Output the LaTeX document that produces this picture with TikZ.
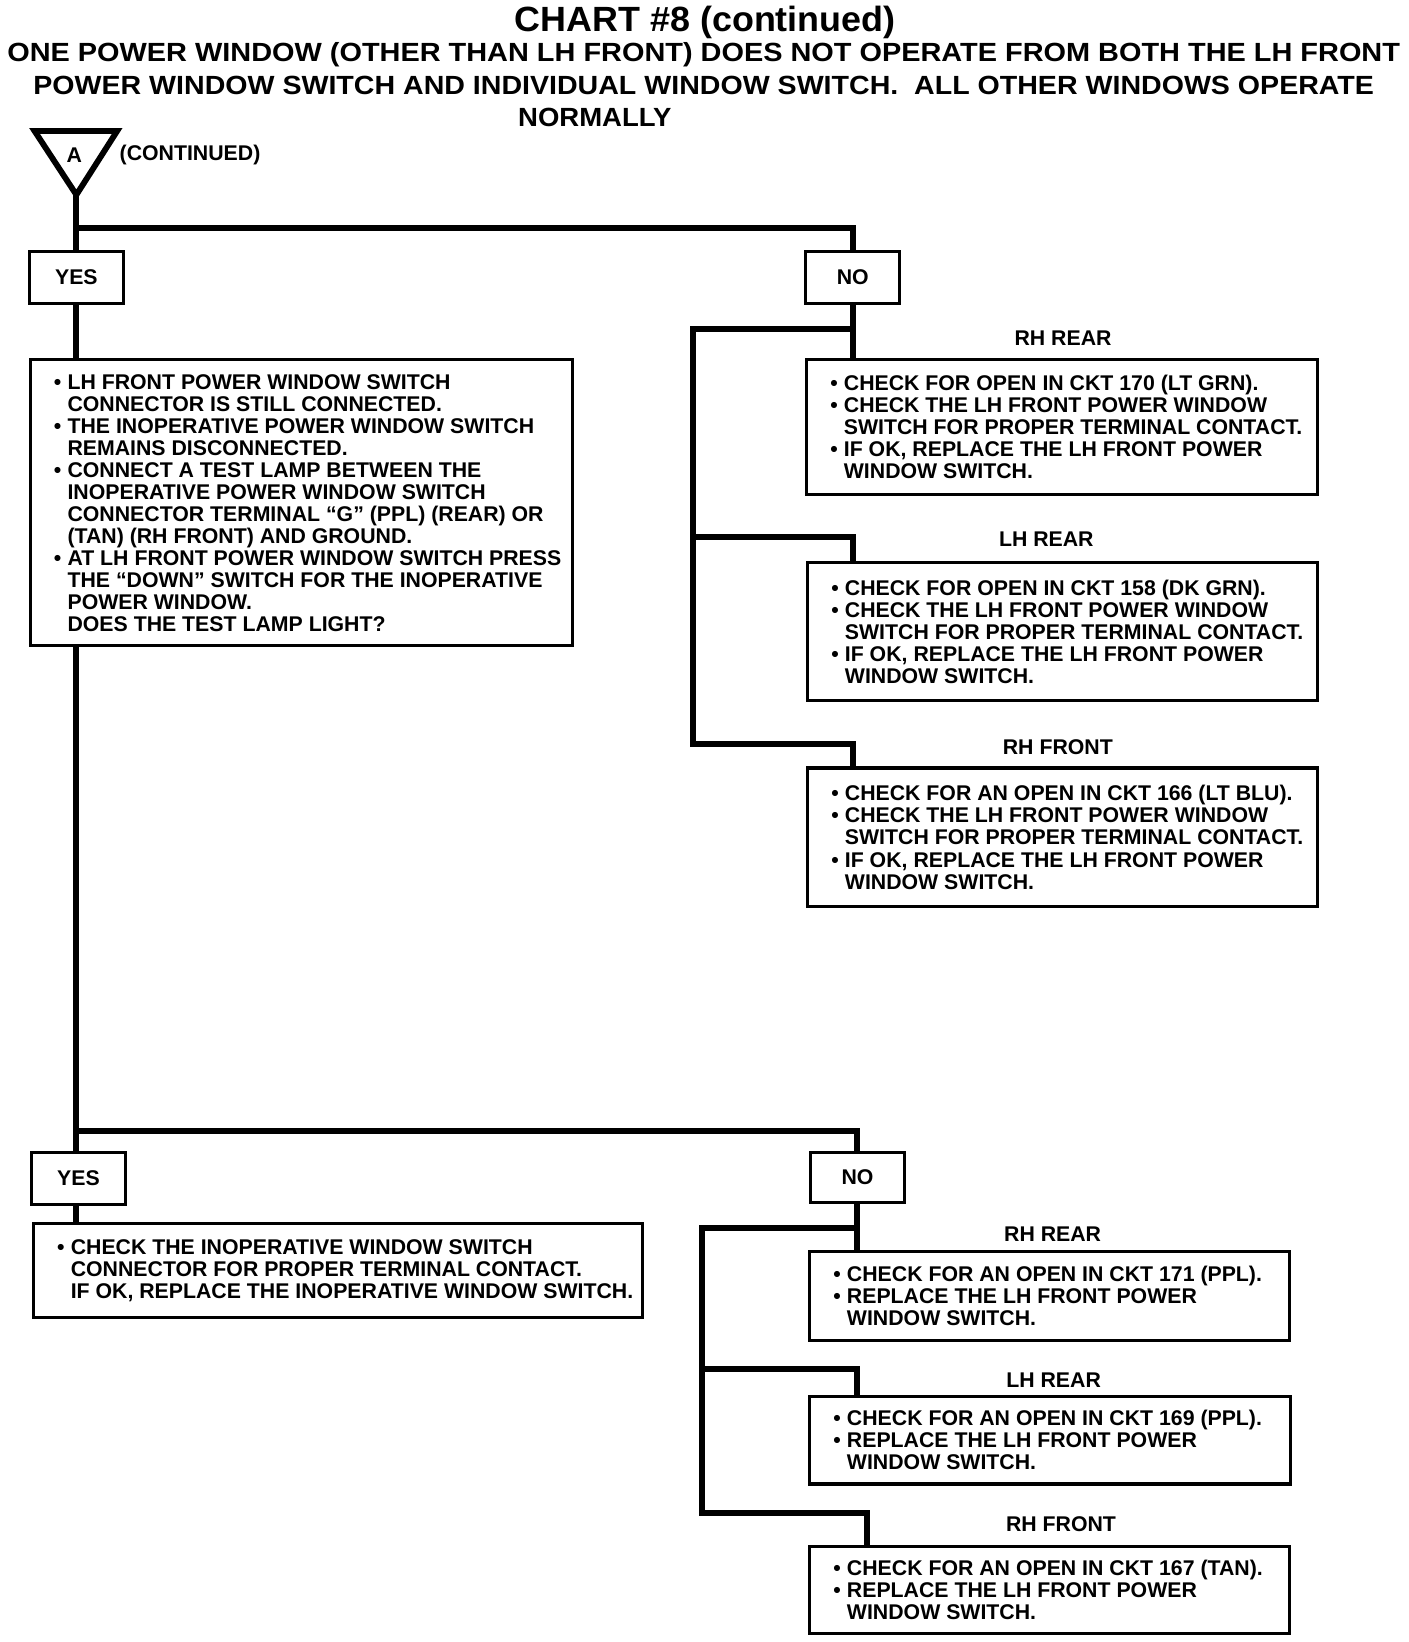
\documentclass[tikz,border=0pt]{standalone}
\usepackage{fontspec}
\usepackage{graphicx}
\setmainfont{Liberation Sans}
\newcommand\bodyfont{\fontsize{10.2pt}{10.55pt}\selectfont\bfseries}
\newcommand\titlefont{\fontsize{16.8pt}{18pt}\selectfont\bfseries}
\newcommand\subfont{\fontsize{12.6pt}{14pt}\selectfont\bfseries}
\newcommand\myb{\makebox[6.5pt][l]{•}}
\newcommand\myc{\hspace*{6.5pt}}
\begin{document}
\begin{tikzpicture}[x=0.5015pt,y=-0.502pt,
  box/.style={draw, line width=1.5pt, rectangle, inner sep=0pt},
  smallbox/.style={box, minimum width=45pt, minimum height=25pt, font=\bodyfont},
  conn/.style={line width=2.9pt},
  txt/.style={font=\bodyfont, align=left, inner sep=0pt, anchor=west},
  lab/.style={font=\bodyfont, inner sep=0pt}]
\fill[white] (0,0) rectangle (1345.96,1567.73);
\useasboundingbox (0,0) rectangle (1345.96,1567.73);

% titles
\node[anchor=base, inner sep=0pt] (t1) at (674,30.5) {\resizebox{182.5pt}{\height}{\titlefont CHART \#8 (continued)}};
\node[anchor=base, inner sep=0pt] (t2) at (672.5,59) {\resizebox{667.5pt}{\height}{\subfont ONE POWER WINDOW (OTHER THAN LH FRONT) DOES NOT OPERATE FROM BOTH THE LH FRONT}};
\node[anchor=base, inner sep=0pt] (t3) at (672.5,90) {\resizebox{642.5pt}{\height}{\subfont POWER WINDOW SWITCH AND INDIVIDUAL WINDOW SWITCH.\ \ ALL OTHER WINDOWS OPERATE}};
\node[anchor=base, inner sep=0pt] (t4) at (568.5,121) {\resizebox{73.5pt}{\height}{\subfont NORMALLY}};

% triangle A
\draw[line width=2.8pt, line join=miter] (33,125) -- (112,125) -- (73,186) -- cycle;
\coordinate (apex) at (73,186);
\node[lab] (A) at (71,148) {A};
\node[lab, anchor=west] (contd) at (114,148) {(CONTINUED)};

% first level
\node[smallbox] (yes1) at (73,265) {YES};
\node[smallbox] (no1) at (815,265) {NO};

\node[box, minimum width=260pt, minimum height=137pt] (big) at (288,480) {};
\node[txt] (bigt) at ([xshift=12pt]big.west) {%
\myb LH FRONT POWER WINDOW SWITCH\\
\myc CONNECTOR IS STILL CONNECTED.\\
\myb THE INOPERATIVE POWER WINDOW SWITCH\\
\myc REMAINS DISCONNECTED.\\
\myb CONNECT A TEST LAMP BETWEEN THE\\
\myc INOPERATIVE POWER WINDOW SWITCH\\
\myc CONNECTOR TERMINAL “G” (PPL) (REAR) OR\\
\myc (TAN) (RH FRONT) AND GROUND.\\
\myb AT LH FRONT POWER WINDOW SWITCH PRESS\\
\myc THE “DOWN” SWITCH FOR THE INOPERATIVE\\
\myc POWER WINDOW.\\
\myc DOES THE TEST LAMP LIGHT?};

\node[lab] (l1) at (1016,323) {RH REAR};
\node[box, minimum width=245pt, minimum height=64.5pt] (r1) at (1015,407.5) {};
\node[txt] (r1t) at ([xshift=12pt]r1.west) {%
\myb CHECK FOR OPEN IN CKT 170 (LT GRN).\\
\myb CHECK THE LH FRONT POWER WINDOW\\
\myc SWITCH FOR PROPER TERMINAL CONTACT.\\
\myb IF OK, REPLACE THE LH FRONT POWER\\
\myc WINDOW SWITCH.};

\node[lab] (l2) at (1000,515) {LH REAR};
\node[box, minimum width=244.5pt, minimum height=66pt] (r2) at (1015.5,603) {};
\node[txt] (r2t) at ([xshift=12pt]r2.west) {%
\myb CHECK FOR OPEN IN CKT 158 (DK GRN).\\
\myb CHECK THE LH FRONT POWER WINDOW\\
\myc SWITCH FOR PROPER TERMINAL CONTACT.\\
\myb IF OK, REPLACE THE LH FRONT POWER\\
\myc WINDOW SWITCH.};

\node[lab] (l3) at (1011,713) {RH FRONT};
\node[box, minimum width=244.5pt, minimum height=66.5pt] (r3) at (1015.5,799.5) {};
\node[txt] (r3t) at ([xshift=12pt]r3.west) {%
\myb CHECK FOR AN OPEN IN CKT 166 (LT BLU).\\
\myb CHECK THE LH FRONT POWER WINDOW\\
\myc SWITCH FOR PROPER TERMINAL CONTACT.\\
\myb IF OK, REPLACE THE LH FRONT POWER\\
\myc WINDOW SWITCH.};

% second level
\node[smallbox] (yes2) at (75,1125) {YES};
\node[smallbox, minimum height=24pt] (no2) at (819.5,1124) {NO};

\node[box, minimum width=292pt, minimum height=45pt] (ybox) at (323,1213) {};
\node[txt] (yboxt) at ([xshift=12pt]ybox.west) {%
\myb CHECK THE INOPERATIVE WINDOW SWITCH\\
\myc CONNECTOR FOR PROPER TERMINAL CONTACT.\\
\myc IF OK, REPLACE THE INOPERATIVE WINDOW SWITCH.};

\node[lab] (m1) at (1006,1178) {RH REAR};
\node[box, minimum width=230pt, minimum height=42.5pt] (s1) at (1003,1237.5) {};
\node[txt] (s1t) at ([xshift=12pt]s1.west) {%
\myb CHECK FOR AN OPEN IN CKT 171 (PPL).\\
\myb REPLACE THE LH FRONT POWER\\
\myc WINDOW SWITCH.};

\node[lab] (m2) at (1007,1318) {LH REAR};
\node[box, minimum width=230.5pt, minimum height=42pt] (s2) at (1003.5,1375) {};
\node[txt] (s2t) at ([xshift=12pt]s2.west) {%
\myb CHECK FOR AN OPEN IN CKT 169 (PPL).\\
\myb REPLACE THE LH FRONT POWER\\
\myc WINDOW SWITCH.};

\node[lab] (m3) at (1014,1455) {RH FRONT};
\node[box, minimum width=230pt, minimum height=42pt] (s3) at (1003,1518) {};
\node[txt] (s3t) at ([xshift=12pt]s3.west) {%
\myb CHECK FOR AN OPEN IN CKT 167 (TAN).\\
\myb REPLACE THE LH FRONT POWER\\
\myc WINDOW SWITCH.};

% connectors, first part
\coordinate (j1) at (73,218);
\draw[conn] (apex) -- (yes1.north);
\draw[conn] (j1) -| (no1.north);
\draw[conn] (yes1.south) -- (yes1.south |- big.north);
\draw[conn] (no1.south) -- (no1.south |- r1.north);
\coordinate (k1) at (662,314);
\coordinate (k2) at (662,513);
\coordinate (k3) at (662,710);
\draw[conn] (no1.south |- k1) -- (k1) -- (k3) -| (r3.north -| no1.south);
\draw[conn] (k2) -| (r2.north -| no1.south);

% connectors, second part
\coordinate (j2) at (73,1080);
\draw[conn] (big.south -| apex) -- (yes2.north -| apex);
\draw[conn] (j2) -| (no2.north);
\draw[conn] (yes2.south -| apex) -- (ybox.north -| apex);
\draw[conn] (no2.south) -- (no2.south |- s1.north);
\coordinate (k4) at (671,1172);
\coordinate (k5) at (671,1307);
\coordinate (k6) at (671,1445);
\coordinate (d3) at ([xshift=4.5pt]no2.south);
\draw[conn] (no2.south |- k4) -- (k4) -- (k6) -| (s3.north -| d3);
\draw[conn] (k5) -| (s2.north -| no2.south);
\end{tikzpicture}
\end{document}
